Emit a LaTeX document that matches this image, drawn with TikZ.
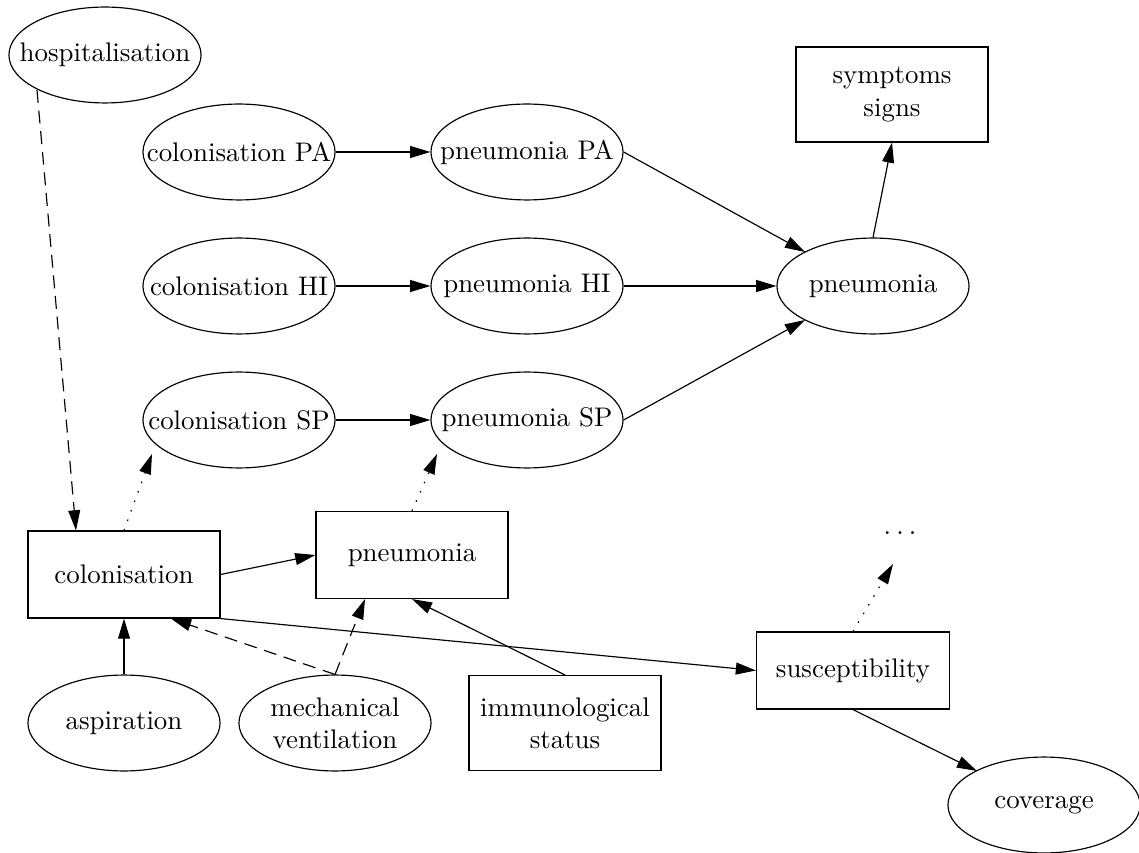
\documentclass[tikz,border=0pt]{standalone}
\usepackage{fontspec}
\usetikzlibrary{arrows.meta,shapes.geometric,calc}
\begin{document}
\begin{tikzpicture}[x=0.3868pt,y=-0.3868pt,line width=0.45pt,
  every node/.append style={font=\fontsize{10.4}{12.4}\selectfont},
  ell/.style={draw, ellipse, inner sep=0pt, minimum width=74.3pt, minimum height=37.1pt},
  box/.style={draw, rectangle, inner sep=0pt, minimum width=74.3pt, align=center},
  arr/.style={-{Triangle[length=7.8pt,width=4.6pt]}},
  dsh/.style={arr, dash pattern=on 5pt off 3pt},
  dtt/.style={arr, dash pattern=on 0.6pt off 3.3pt}]
\useasboundingbox (0,0) rectangle (1139,853);
% nodes
\node[ell,label=center:hospitalisation] (hosp) at (105,55) {};
\node[ell,label=center:colonisation PA] (cpa) at (239,152) {};
\node[ell,label=center:pneumonia PA] (ppa) at (527,152) {};
\node[box,minimum height=36.7pt] (symp) at (892,94.5) {symptoms\\signs};
\node[ell,label=center:colonisation HI] (chi) at (239,286) {};
\node[ell,label=center:pneumonia HI] (phi) at (527,286) {};
\node[ell,label=center:pneumonia] (pneu) at (873,286) {};
\node[ell,label=center:colonisation SP] (csp) at (239,420) {};
\node[ell,label=center:pneumonia SP] (psp) at (527,420) {};
\node[box,minimum height=33.65pt] (colbox) at (124,574.5) {colonisation};
\node[box,minimum height=33.65pt] (pnbox) at (412,555) {pneumonia};
\node[inner sep=0pt] (dots) at (900,533) {.\kern2pt.\kern2pt.};
\node[ell,label=center:aspiration] (asp) at (124,723) {};
\node[ell,label={[align=center]center:mechanical\\ventilation}] (mech) at (335,723) {};
\node[box,minimum height=36.7pt] (imm) at (565,723) {immunological\\status};
\node[box,minimum height=29.8pt,minimum width=74.6pt] (susc) at (853,670.5) {susceptibility};
\node[ell,label=center:coverage] (cov) at (1044,805) {};
% edges
\draw[dsh] ($(hosp)+(-68,35)$) -- ($(colbox.north)+(-48,0)$);
\draw[dtt] (colbox.north) -- ($(csp)+(-87,34)$);
\draw[arr] (colbox.east) -- (pnbox.west);
\draw[dtt] (pnbox.north) -- ($(psp)+(-90,34)$);
\draw[arr] (cpa) -- (ppa);
\draw[arr] (chi) -- (phi);
\draw[arr] (csp) -- (psp);
\draw[arr] (ppa.east) -- ($(pneu)+(-68,-34)$);
\draw[arr] (phi) -- (pneu);
\draw[arr] (psp.east) -- ($(pneu)+(-68,34)$);
\draw[arr] (pneu.north) -- (symp.south);
\draw[arr] (asp) -- (colbox);
\draw[dsh] (mech.north) -- ($(colbox.south)+(47,0)$);
\draw[dsh] (mech.north) -- ($(pnbox.south)+(-47,0)$);
\draw[arr] (imm.north) -- (pnbox.south);
\draw[arr] (colbox.south east) -- (susc.west);
\draw[dtt] (susc.north) -- ($(dots)+(-7,31)$);
\draw[arr] (susc.south) -- ($(cov)+(-67,-34)$);
\end{tikzpicture}
\end{document}
